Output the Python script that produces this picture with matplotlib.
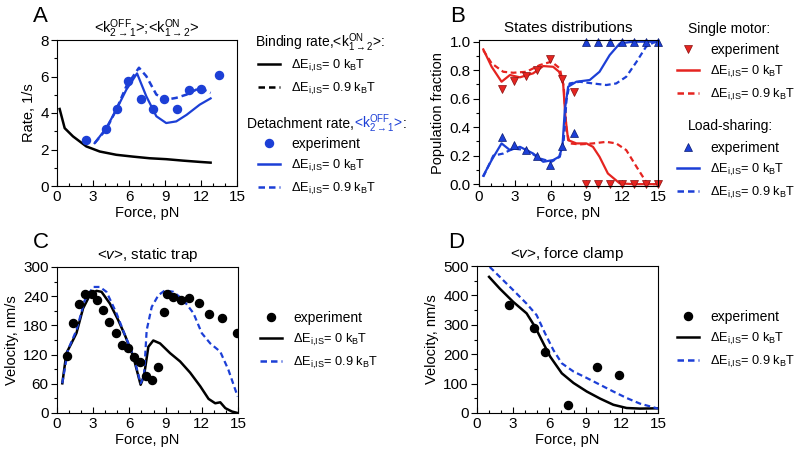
import matplotlib
matplotlib.use('Agg')
import matplotlib.pyplot as plt
from matplotlib.lines import Line2D
from matplotlib.ticker import MultipleLocator

plt.rcParams['font.family'] = ['Liberation Sans', 'DejaVu Sans']
plt.rcParams['mathtext.fontset'] = 'custom'
plt.rcParams['mathtext.rm'] = 'Liberation Sans'
plt.rcParams['mathtext.it'] = 'Liberation Sans:italic'
plt.rcParams['mathtext.bf'] = 'Liberation Sans:bold'
plt.rcParams['font.size'] = 10

BLUE = '#1c3fd6'
RED = '#e52420'
DASH = (0, (2.6, 1.6))

# ---------------- panel A: rates ----------------
a_bind_f = [0.22, 0.64, 1.33, 2.44, 3.56, 4.94, 6.33, 7.72, 9.1, 10.5, 11.9, 12.8]
a_bind_0 = [4.22, 3.17, 2.72, 2.17, 1.89, 1.71, 1.61, 1.52, 1.47, 1.39, 1.32, 1.28]

a_exp_f = [2.44, 4.06, 4.97, 5.94, 7.0, 8.0, 8.94, 10.0, 11.0, 12.0, 13.5]
a_exp_k = [2.50, 3.10, 4.24, 5.78, 4.77, 4.24, 4.77, 4.24, 5.25, 5.32, 6.06]

a_off0_f = [3.14, 4.1, 4.94, 5.78, 6.67, 7.44, 8.28, 9.1, 9.94, 10.8, 11.9, 12.8]
a_off0_k = [2.35, 3.17, 4.18, 5.28, 6.17, 4.92, 3.82, 3.45, 3.54, 3.9, 4.46, 4.8]
a_off9_f = [3.14, 4.1, 4.94, 5.78, 6.83, 7.44, 8.28, 9.1, 9.94, 10.8, 11.9, 12.8]
a_off9_k = [2.35, 3.1, 4.18, 5.47, 6.48, 6.02, 5.01, 4.73, 4.83, 5.01, 5.38, 5.1]

# ---------------- panel B: state distributions ----------------
b_exp_f = [1.92, 2.95, 3.93, 4.9, 5.93, 6.96, 7.94, 9, 10, 11, 12, 13, 14, 15]
b_single_exp = [0.665, 0.726, 0.759, 0.80, 0.876, 0.735, 0.644, 0, 0, 0, 0, 0, 0, 0]
b_load_exp = [0.333, 0.272, 0.239, 0.197, 0.133, 0.269, 0.36, 1, 1, 1, 1, 1, 1, 1]

b_s0_f = [0.36, 1.06, 1.89, 2.59, 3.43, 4.54, 5.38, 6.21, 6.71, 7.05, 7.24, 7.47,
          8.16, 9.0, 9.55, 10.1, 10.8, 11.8, 13.0, 15.0]
b_s0 = [0.946, 0.824, 0.719, 0.766, 0.75, 0.778, 0.829, 0.824, 0.789, 0.707, 0.473, 0.309,
        0.286, 0.286, 0.262, 0.192, 0.075, 0.005, 0.0, 0.0]
b_s9_f = [0.36, 1.06, 2.03, 2.87, 3.98, 5.1, 6.07, 6.77, 7.1, 7.33, 7.6,
          8.44, 9.55, 10.67, 11.5, 12.34, 13.2, 14.0, 14.5, 15.0]
b_s9 = [0.94, 0.848, 0.789, 0.782, 0.789, 0.836, 0.86, 0.813, 0.684, 0.379, 0.286,
        0.279, 0.286, 0.297, 0.286, 0.239, 0.122, 0.016, 0.0, 0.0]
b_l0_f = [0.36, 1.06, 1.89, 2.59, 3.43, 4.54, 5.38, 6.21, 6.71, 6.99, 7.19, 7.47,
          8.16, 9.28, 10.1, 10.95, 11.8, 12.9, 15.0]
b_l0 = [0.059, 0.169, 0.286, 0.239, 0.262, 0.215, 0.157, 0.169, 0.192, 0.262, 0.52, 0.684,
        0.719, 0.731, 0.789, 0.906, 0.988, 1.0, 1.0]
b_l9_f = [0.36, 1.2, 2.03, 2.87, 3.98, 5.1, 6.07, 6.77, 7.1, 7.33, 7.6,
          8.44, 9.55, 10.67, 11.5, 12.34, 13.2, 14.0, 14.6, 15.0]
b_l9 = [0.052, 0.2, 0.215, 0.25, 0.239, 0.18, 0.157, 0.192, 0.309, 0.59, 0.707,
        0.719, 0.707, 0.696, 0.707, 0.754, 0.859, 0.965, 0.993, 1.0]

# ---------------- panel C: velocity, static trap ----------------
c_exp_f = [0.86, 1.33, 1.83, 2.33, 2.86, 3.35, 3.85, 4.35, 4.85, 5.35, 5.85, 6.35, 6.85,
           7.35, 7.85, 8.34, 8.84, 9.15, 9.59, 10.26, 10.98, 11.75, 12.59, 13.7, 14.89]
c_exp_v = [118, 185, 225, 244, 244, 232, 211, 186, 165, 140, 134, 116, 104,
           77, 68, 95, 207, 245, 239, 232, 237, 227, 203, 196, 164]

c_0_f = [0.44, 0.78, 1.19, 1.61, 2.16, 2.72, 3.27, 3.69, 4.38, 5.07, 5.63, 6.32, 6.93,
         7.21, 7.57, 7.98, 8.54, 9.37, 10.2, 11.03, 11.87, 12.56, 13.11, 13.53, 13.95, 14.5, 14.97]
c_0_v = [61, 123, 143, 164, 215, 242, 251, 249, 225, 191, 160, 116, 58,
         76, 136, 149, 143, 123, 106, 83, 55, 29, 20, 22, 10, 3, 0]
c_9_f = [0.44, 0.91, 1.61, 2.3, 3.0, 3.55, 4.1, 4.93, 5.63, 6.32, 6.93, 7.21, 7.43,
         7.85, 8.4, 8.95, 9.65, 10.48, 11.31, 12.0, 12.7, 13.53, 14.2, 14.97]
c_9_v = [61, 130, 170, 232, 259, 259, 249, 205, 160, 119, 61, 75, 170,
         218, 242, 252, 249, 232, 205, 164, 143, 126, 89, 34]

# ---------------- panel D: velocity, force clamp ----------------
d_exp_f = [2.67, 4.75, 5.64, 7.58, 9.92, 11.75]
d_exp_v = [366, 288, 208, 28, 158, 129]

d_0_f = [1.0, 1.89, 3.0, 4.11, 4.81, 5.5, 6.06, 7.03, 8.0, 9.1, 10.2, 11.3, 12.4, 13.5, 15.0]
d_0_v = [463, 423, 378, 339, 293, 237, 192, 135, 102, 73, 49, 28, 17, 15, 16]
d_9_f = [1.05, 1.89, 3.0, 4.11, 4.94, 5.64, 6.33, 7.03, 8.0, 9.1, 10.2, 11.3, 12.4, 13.5, 15.0]
d_9_v = [497, 463, 418, 372, 333, 271, 214, 169, 141, 119, 96, 73, 51, 32, 15]

W, H = 800, 458
fig = plt.figure(figsize=(8, 4.58), dpi=100)

MS = 5.8
LFS = 10


def px_axes(x0, y0, x1, y1):
    return fig.add_axes([x0 / W, 1 - y1 / H, (x1 - x0) / W, (y1 - y0) / H])


def style(ax, ymaj, ymin):
    ax.set_xlim(0, 15)
    ax.xaxis.set_major_locator(MultipleLocator(3))
    ax.xaxis.set_minor_locator(MultipleLocator(1))
    ax.yaxis.set_major_locator(MultipleLocator(ymaj))
    ax.yaxis.set_minor_locator(MultipleLocator(ymin))
    ax.tick_params(axis='x', which='both', direction='in', labelsize=11, pad=3)
    ax.tick_params(axis='y', which='both', direction='out', labelsize=11, pad=2)
    ax.tick_params(which='major', length=4, width=0.8)
    ax.tick_params(which='minor', length=2.5, width=0.8)
    ax.set_xlabel('Force, pN', fontsize=10.5, labelpad=1)
    for s in ax.spines.values():
        s.set_linewidth(0.8)


def legend(handles, labels, x, y):
    leg = fig.legend(handles, labels, loc='upper left', bbox_to_anchor=(x / W, 1 - y / H),
                     bbox_transform=fig.transFigure, frameon=False, borderpad=0,
                     borderaxespad=0, handlelength=1.6, handletextpad=0.8,
                     labelspacing=0.5, fontsize=LFS)
    for t in leg.get_texts():
        if t.get_text().startswith('Δ'):
            t.set_fontsize(9.2)
    return leg


lab0 = 'ΔE$_{\\rm i{,}IS}$= 0 k$_{\\rm B}$T'
lab9 = 'ΔE$_{\\rm i{,}IS}$= 0.9 k$_{\\rm B}$T'
k_on = '<k$^{\\rm ON}_{1{\\rightarrow}2}$>'
k_off = '<k$^{\\rm OFF}_{2{\\rightarrow}1}$>'

# ---- A ----
axA = px_axes(57, 40, 237, 186)
axA.plot(a_bind_f, a_bind_0, color='k', lw=1.8)
axA.plot(a_off9_f, a_off9_k, color=BLUE, lw=1.8, ls=DASH)
axA.plot(a_off0_f, a_off0_k, color=BLUE, lw=1.6)
axA.plot(a_exp_f, a_exp_k, ls='none', marker='o', ms=MS, color=BLUE)
axA.set_ylim(0, 8)
style(axA, 2, 1)
axA.set_ylabel('Rate, 1/s', fontsize=10.5, labelpad=3)
axA.set_title(k_off + ';' + k_on, fontsize=10.5, pad=5)

# ---- B ----
axB = px_axes(479, 40, 658, 186)
axB.plot(b_s9_f, b_s9, color=RED, lw=1.6, ls=DASH)
axB.plot(b_s0_f, b_s0, color=RED, lw=1.6)
axB.plot(b_l9_f, b_l9, color=BLUE, lw=1.6, ls=DASH)
axB.plot(b_l0_f, b_l0, color=BLUE, lw=1.6)
axB.plot(b_exp_f, b_single_exp, ls='none', marker='v', ms=MS, color=RED,
         mec='#8a1010', mew=0.5, clip_on=False)
axB.plot(b_exp_f, b_load_exp, ls='none', marker='^', ms=MS, color=BLUE,
         mec='#0a1a70', mew=0.5, clip_on=False)
axB.set_ylim(-0.013, 1.012)
style(axB, 0.2, 0.1)
axB.set_ylabel('Population fraction', fontsize=10.5, labelpad=3)
axB.set_title('States distributions', fontsize=11, pad=6)

# ---- C ----
axC = px_axes(57, 267, 238, 413)
axC.plot(c_0_f, c_0_v, color='k', lw=1.8)
axC.plot(c_9_f, c_9_v, color=BLUE, lw=1.6, ls=DASH)
axC.plot(c_exp_f, c_exp_v, ls='none', marker='o', ms=MS, color='k')
axC.set_ylim(0, 300)
style(axC, 60, 30)
axC.set_ylabel('Velocity, nm/s', fontsize=10.5, labelpad=3)
axC.set_title('<$\\it{v}$>, static trap', fontsize=11, pad=6)

# ---- D ----
axD = px_axes(477, 266, 658, 413)
axD.plot(d_0_f, d_0_v, color='k', lw=1.8)
axD.plot(d_9_f, d_9_v, color=BLUE, lw=1.6, ls=DASH)
axD.plot(d_exp_f, d_exp_v, ls='none', marker='o', ms=MS, color='k')
axD.set_ylim(0, 500)
style(axD, 100, 50)
axD.set_ylabel('Velocity, nm/s', fontsize=10.5, labelpad=3)
axD.set_title('<$\\it{v}$>, force clamp', fontsize=11, pad=6)

# panel letters
for letter, x, y in [('A', 33, 16), ('B', 450, 16), ('C', 33, 243), ('D', 448, 243)]:
    fig.text(x / W, 1 - y / H, letter, fontsize=16, va='center', ha='left')

# ---- legends ----
k_solid = Line2D([], [], color='k', lw=1.8)
k_dash = Line2D([], [], color='k', lw=1.8, ls=DASH)
b_solid = Line2D([], [], color=BLUE, lw=1.8)
b_dash = Line2D([], [], color=BLUE, lw=1.8, ls=DASH)
r_solid = Line2D([], [], color=RED, lw=1.8)
r_dash = Line2D([], [], color=RED, lw=1.8, ls=DASH)
b_dot = Line2D([], [], ls='none', marker='o', ms=MS, color=BLUE)
k_dot = Line2D([], [], ls='none', marker='o', ms=MS, color='k')
r_tri = Line2D([], [], ls='none', marker='v', ms=MS + 0.5, color=RED, mec='#8a1010', mew=0.5)
b_tri = Line2D([], [], ls='none', marker='^', ms=MS + 0.5, color=BLUE, mec='#0a1a70', mew=0.5)

fig.text(255 / W, 1 - 43 / H, 'Binding rate,' + k_on + ':', fontsize=LFS, va='center')
legend([k_solid, k_dash], [lab0, lab9], 258, 58)
t1 = fig.text(247 / W, 1 - 124 / H, 'Detachment rate,', fontsize=LFS, va='center')
fig.canvas.draw()
t2 = fig.text(t1.get_window_extent().x1 / W, 1 - 124 / H, k_off,
              fontsize=LFS, va='center', color=BLUE)
fig.canvas.draw()
fig.text(t2.get_window_extent().x1 / W, 1 - 124 / H, ':', fontsize=LFS, va='center')
legend([b_dot, b_solid, b_dash], ['experiment', lab0, lab9], 258, 137)

fig.text(688 / W, 1 - 29 / H, 'Single motor:', fontsize=LFS, va='center')
legend([r_tri, r_solid, r_dash], ['experiment', lab0, lab9], 677, 43)
fig.text(688 / W, 1 - 126 / H, 'Load-sharing:', fontsize=LFS, va='center')
legend([b_tri, b_solid, b_dash], ['experiment', lab0, lab9], 677, 141)

legend([k_dot, k_solid, b_dash], ['experiment', lab0, lab9], 260, 311)
legend([k_dot, k_solid, b_dash], ['experiment', lab0, lab9], 677, 310)

fig.savefig('out.png', dpi=100)
